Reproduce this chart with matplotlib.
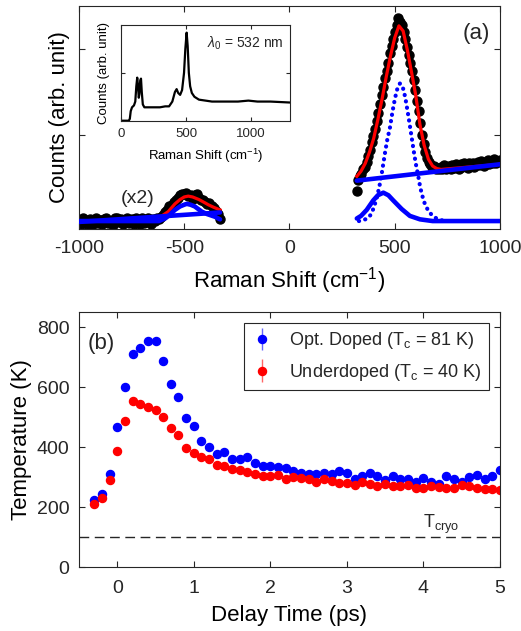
import matplotlib
matplotlib.use('Agg')
import matplotlib.pyplot as plt
from matplotlib.container import ErrorbarContainer
from matplotlib.legend_handler import HandlerErrorbar

# fonts (Helvetica-like)
plt.rcParams['font.family'] = ['Liberation Sans', 'DejaVu Sans']
plt.rcParams['mathtext.fontset'] = 'custom'
plt.rcParams['mathtext.rm'] = 'Liberation Sans'
plt.rcParams['mathtext.it'] = 'Liberation Sans:italic'
plt.rcParams['axes.unicode_minus'] = False
plt.rcParams['axes.edgecolor'] = '#262626'
plt.rcParams['xtick.color'] = '#262626'
plt.rcParams['ytick.color'] = '#262626'
plt.rcParams['text.color'] = '#262626'

# ---------------- panel (a) data ----------------
# anti-Stokes side (scaled x2)
as_x = [-1000, -990, -980, -970, -960, -950, -940, -930, -920, -910, -900, -890, -880,
        -870, -860, -850, -840, -830, -820, -810, -800, -790, -780, -770, -760, -750,
        -740, -730, -720, -710, -700, -690, -680, -670, -660, -650, -640, -630, -620,
        -610, -600, -590, -580, -570, -560, -550, -540, -530, -520, -510, -500, -490,
        -480, -470, -460, -450, -440, -430, -420, -410, -400, -390, -380, -370, -360,
        -350, -340, -330]
as_y = [0.00, -0.04, 0.03, 0.01, -0.03, 0.02, -0.05, 0.00, 0.03, -0.02, 0.01, -0.04, 0.02,
        0.03, -0.02, 0.00, -0.05, 0.03, 0.04, -0.01, 0.02, -0.03, 0.01, 0.04, -0.02, 0.02,
        -0.04, 0.04, 0.00, -0.03, 0.03, -0.02, 0.01, 0.04, -0.03, 0.02, 0.00, 0.03, 0.02,
        0.05, 0.07, 0.10, 0.13, 0.17, 0.19, 0.22, 0.25, 0.27, 0.30, 0.32, 0.31, 0.33,
        0.29, 0.30, 0.26, 0.30, 0.31, 0.27, 0.25, 0.24, 0.22, 0.20, 0.21, 0.17, 0.15,
        0.12, 0.08, 0.02]
as_fit_x = [-1000, -650, -620, -600, -576, -544, -520, -500, -481, -460, -430, -400, -386, -360, -330]
as_fit_y = [0.00, 0.02, 0.04, 0.07, 0.11, 0.20, 0.25, 0.28, 0.29, 0.28, 0.25, 0.21, 0.19, 0.16, 0.13]
as_bg_x = [-1000, -330]
as_bg_y = [-0.01, 0.10]
as_peak_x = [-1000, -620, -591, -570, -544, -520, -500, -488, -470, -450, -417, -390, -354, -330]
as_peak_y = [0.00, 0.00, 0.03, 0.07, 0.13, 0.17, 0.19, 0.20, 0.19, 0.17, 0.11, 0.08, 0.05, 0.02]

# Stokes side
st_x = [320, 326, 334, 342, 350, 358, 366, 374, 382, 390, 398, 406, 414, 422, 430, 438,
        446, 454, 462, 470, 478, 486, 494, 502, 510, 518, 526, 534, 542, 550, 558, 566,
        574, 582, 590, 598, 606, 614, 622, 630, 638, 646, 654, 662, 670, 678, 686, 694,
        702, 710, 718, 726, 734, 742, 750, 758, 766, 774, 782, 790, 798, 806, 814, 822,
        830, 838, 846, 854, 862, 870, 878, 886, 894, 902, 910, 918, 926, 934, 942, 950,
        958, 966, 974, 982, 990, 998]
st_y = [0.35, 0.48, 0.52, 0.55, 0.60, 0.63, 0.69, 0.76, 0.83, 0.92, 0.99, 1.07, 1.16, 1.26,
        1.36, 1.46, 1.56, 1.66, 1.75, 1.84, 1.95, 2.03, 2.12, 2.20, 2.28, 2.36, 2.32, 2.28,
        2.20, 2.12, 2.02, 1.93, 1.84, 1.74, 1.64, 1.52, 1.40, 1.28, 1.14, 1.00, 0.90, 0.80,
        0.73, 0.69, 0.66, 0.63, 0.64, 0.61, 0.62, 0.60, 0.63, 0.61, 0.65, 0.60, 0.63, 0.64,
        0.61, 0.65, 0.62, 0.66, 0.64, 0.61, 0.66, 0.63, 0.67, 0.64, 0.62, 0.67, 0.65, 0.68,
        0.63, 0.66, 0.69, 0.65, 0.70, 0.67, 0.64, 0.69, 0.71, 0.66, 0.70, 0.68, 0.72, 0.67,
        0.70, 0.71]
st_fit_x = [320, 340, 360, 380, 400, 420, 440, 460, 480, 500, 520, 540, 560, 580, 600,
            620, 640, 660, 680, 700, 720, 1000]
st_fit_y = [0.52, 0.58, 0.67, 0.80, 0.96, 1.18, 1.42, 1.68, 1.92, 2.13, 2.27, 2.21, 1.99,
            1.73, 1.46, 1.12, 0.88, 0.72, 0.64, 0.61, 0.60, 0.66]
st_bg_x = [320, 1000]
st_bg_y = [0.47, 0.66]
# narrow component (dotted)
st_p1_x = [330, 350, 370, 385, 400, 415, 427, 437, 446, 455, 465, 477, 490, 500, 510, 520,
           525, 530, 540, 550, 565, 577, 590, 600, 612, 620, 628, 640, 659, 680, 699, 720, 750]
st_p1_y = [0.00, 0.01, 0.03, 0.07, 0.15, 0.27, 0.40, 0.53, 0.67, 0.81, 0.95, 1.08, 1.28,
           1.41, 1.52, 1.58, 1.60, 1.59, 1.54, 1.44, 1.22, 1.03, 0.82, 0.67, 0.52, 0.41,
           0.32, 0.22, 0.12, 0.06, 0.03, 0.01, 0.00]
# broad component (solid)
st_p2_x = [320, 340, 367, 398, 420, 446, 470, 493, 533, 572, 620, 680, 1000]
st_p2_y = [0.03, 0.06, 0.13, 0.24, 0.30, 0.33, 0.30, 0.24, 0.14, 0.06, 0.02, 0.00, 0.00]

# inset spectrum
ins_x = [0, 60, 68, 75, 85, 100, 110, 118, 125, 130, 137, 142, 148, 154, 160, 168, 180, 250,
         300, 340, 370, 395, 415, 428, 440, 455, 470, 485, 495, 505, 513, 522, 532, 545, 565,
         600, 650, 700, 800, 900, 980, 1050, 1150, 1300]
ins_y = [0.00, 0.00, 0.02, 0.10, 0.14, 0.16, 0.20, 0.36, 0.45, 0.38, 0.24, 0.28, 0.42, 0.44,
         0.30, 0.17, 0.14, 0.14, 0.14, 0.15, 0.15, 0.20, 0.30, 0.33, 0.29, 0.27, 0.32, 0.50,
         0.75, 0.92, 0.78, 0.50, 0.36, 0.29, 0.25, 0.22, 0.21, 0.20, 0.20, 0.20, 0.21, 0.20,
         0.20, 0.19]

# ---------------- panel (b) data ----------------
delay = [-0.3, -0.2, -0.1, 0.0, 0.1, 0.2, 0.3, 0.4, 0.5, 0.6, 0.7, 0.8, 0.9, 1.0, 1.1, 1.2,
         1.3, 1.4, 1.5, 1.6, 1.7, 1.8, 1.9, 2.0, 2.1, 2.2, 2.3, 2.4, 2.5, 2.6, 2.7, 2.8, 2.9,
         3.0, 3.1, 3.2, 3.3, 3.4, 3.5, 3.6, 3.7, 3.8, 3.9, 4.0, 4.1, 4.2, 4.3, 4.4, 4.5, 4.6,
         4.7, 4.8, 4.9, 5.0]
T_opt = [225, 242, 309, 466, 599, 709, 729, 755, 754, 687, 611, 567, 496, 469, 419, 400,
         378, 384, 359, 359, 368, 348, 336, 338, 332, 329, 320, 315, 311, 310, 314, 311, 319,
         315, 295, 304, 313, 304, 289, 304, 295, 293, 284, 297, 284, 276, 304, 292, 284, 301,
         306, 294, 302, 323]
T_under = [209, 231, 290, 387, 488, 552, 544, 533, 524, 499, 465, 439, 398, 381, 368, 360,
           341, 338, 326, 324, 316, 311, 305, 304, 306, 293, 299, 296, 295, 284, 292, 286, 280,
           281, 272, 283, 276, 271, 277, 271, 271, 274, 262, 262, 271, 267, 264, 264, 273, 271,
           263, 261, 261, 258]
T_err = 10
T_cryo = 100

blue = '#0000ff'
red = '#ff0000'

fig = plt.figure(figsize=(5.21, 6.31), dpi=100)

# ---- (a) ----
ax1 = fig.add_axes([0.1516, 0.637, 0.808, 0.3534])
ax1.plot(as_x, as_y, 'o', color='black', ms=6.5, zorder=2)
ax1.plot(st_x, st_y, 'o', color='black', ms=6.5, zorder=2)
ax1.plot(as_fit_x, as_fit_y, color=red, lw=2.3, zorder=3)
ax1.plot(st_fit_x, st_fit_y, color=red, lw=2.3, zorder=3)
ax1.plot(as_bg_x, as_bg_y, color=blue, lw=3.3, solid_capstyle='round', zorder=4)
ax1.plot(as_peak_x, as_peak_y, color=blue, lw=3.3, solid_capstyle='round', zorder=4)
ax1.plot(st_bg_x, st_bg_y, color=blue, lw=3.3, solid_capstyle='round', zorder=4)
ax1.plot(st_p2_x, st_p2_y, color=blue, lw=3.3, solid_capstyle='round', zorder=4)
ax1.plot(st_p1_x, st_p1_y, color=blue, lw=3.0, linestyle=(0, (0.05, 1.5)),
         dash_capstyle='round', zorder=4)
ax1.set_xlim(-1000, 1000)
ax1.set_ylim(-0.093, 2.5)
ax1.set_xticks([-1000, -500, 0, 500, 1000])
ax1.set_yticks([0, 1, 2])
ax1.set_yticklabels([])
ax1.tick_params(direction='in', top=True, right=True, length=4, labelsize=14, width=0.8, pad=8)
ax1.set_xlabel('Raman Shift (cm$^{-1}$)', fontsize=16, labelpad=6)
ax1.set_ylabel('Counts (arb. unit)', fontsize=16)
ax1.yaxis.set_label_coords(-0.022, 0.5)
ax1.text(0.944, 0.877, '(a)', transform=ax1.transAxes, fontsize=16, ha='center', va='center')
ax1.text(0.14, 0.139, '(x2)', transform=ax1.transAxes, fontsize=14, ha='center', va='center')

# inset
ax_in = fig.add_axes([0.2322, 0.8087, 0.3244, 0.1517])
ax_in.plot(ins_x, ins_y, color='black', lw=1.6)
ax_in.set_xlim(0, 1300)
ax_in.set_ylim(0, 1)
ax_in.set_xticks([0, 500, 1000])
ax_in.set_yticks([0.5])
ax_in.set_yticklabels([])
ax_in.tick_params(direction='in', top=True, right=True, length=3, labelsize=9.5, width=0.8, pad=5)
ax_in.set_xlabel('Raman Shift (cm$^{-1}$)', fontsize=9.5, labelpad=5)
ax_in.set_ylabel('Counts (arb. unit)', fontsize=9.5, labelpad=3)
ax_in.text(0.507, 0.81, r'$\lambda_0$ = 532 nm', transform=ax_in.transAxes, fontsize=10,
           ha='left', va='center')

# ---- (b) ----
ax2 = fig.add_axes([0.1516, 0.1014, 0.808, 0.4041])
ax2.axhline(T_cryo, color='#262626', lw=1.0, linestyle=(0, (7, 4)))
ax2.errorbar(delay, T_opt, yerr=T_err, fmt='o', color=blue, ms=5.8, elinewidth=1,
             ecolor='#6666ff', capsize=0, label='Opt. Doped (T$_{\\rm c}$ = 81 K)')
ax2.errorbar(delay, T_under, yerr=T_err, fmt='o', color=red, ms=5.8, elinewidth=1,
             ecolor='#ff6666', capsize=0, label='Underdoped (T$_{\\rm c}$ = 40 K)')
ax2.set_xlim(-0.5, 5)
ax2.set_ylim(0, 850)
ax2.set_xticks([0, 1, 2, 3, 4, 5])
ax2.set_yticks([0, 200, 400, 600, 800])
ax2.tick_params(direction='in', top=True, right=True, length=4, labelsize=14, width=0.8)
ax2.tick_params(axis='x', pad=9)
ax2.tick_params(axis='y', pad=7)
ax2.set_xlabel('Delay Time (ps)', fontsize=16, labelpad=6)
ax2.set_ylabel('Temperature (K)', fontsize=16)
ax2.yaxis.set_label_coords(-0.112, 0.5)
ax2.text(0.021, 0.878, '(b)', transform=ax2.transAxes, fontsize=16, ha='left', va='center')
ax2.text(4.0, 130, 'T$_{\\rm cryo}$', fontsize=13, ha='left', va='baseline')
leg = ax2.legend(loc='upper right', fontsize=13, frameon=True, fancybox=False,
                 edgecolor='#262626', framealpha=1, handlelength=1.2, handletextpad=0.9,
                 borderaxespad=0.6, labelspacing=0.6, borderpad=0.4,
                 handler_map={ErrorbarContainer: HandlerErrorbar(yerr_size=0.62)})
leg.get_frame().set_linewidth(0.8)

for ax in (ax1, ax_in, ax2):
    for s in ax.spines.values():
        s.set_linewidth(0.8)

fig.savefig('out.png', dpi=100)
